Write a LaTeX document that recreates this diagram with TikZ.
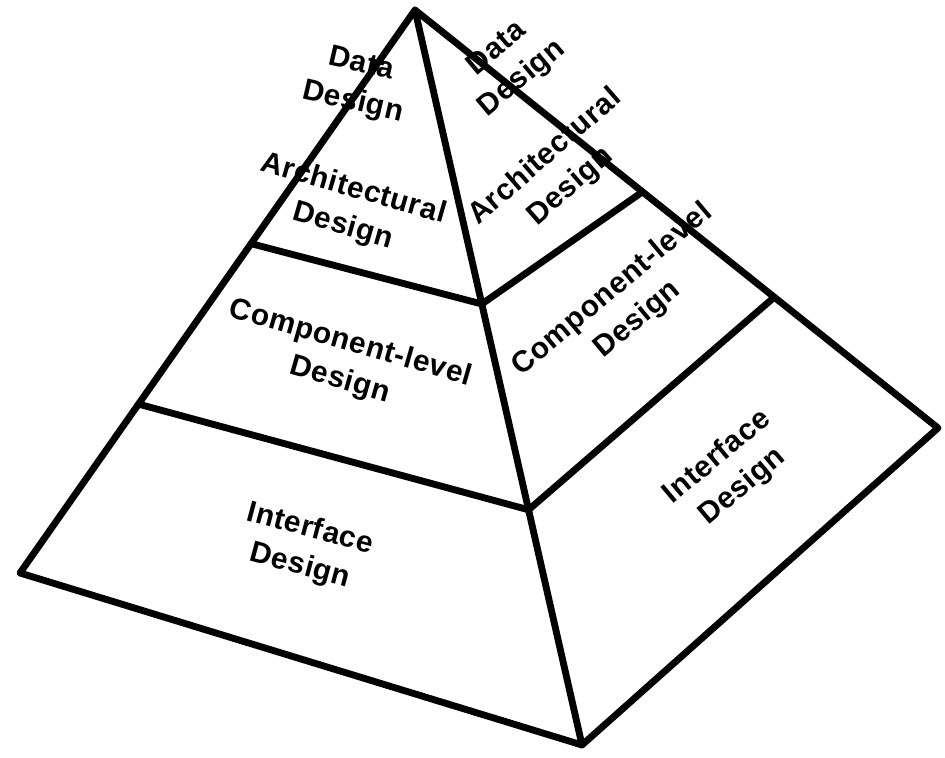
\documentclass[tikz,border=0pt]{standalone}
\usepackage{fontspec}
\setmainfont[LetterSpace=2]{Liberation Sans}
\usetikzlibrary{calc}

\tikzset{
  edge/.style={line width=3.9pt, line join=round, line cap=round},
  lbl/.style={align=center, inner sep=0pt, font=\bfseries\fontsize{17}{22}\selectfont},
}

\begin{document}
\begin{tikzpicture}[x=0.02cm, y=-0.02cm]
  \useasboundingbox (0,0) rectangle (945,757);

  % Corners
  \coordinate (apex) at (415, 10);
  \coordinate (lc) at (20, 573);
  \coordinate (fc) at (582, 745);
  \coordinate (rc) at (938, 428);

  % Layer points
  \coordinate (l1) at ($(apex)!0.415!(lc)$);
  \coordinate (l2) at ($(apex)!0.70!(lc)$);
  \coordinate (f1) at ($(apex)!0.40!(fc)$);
  \coordinate (f2) at ($(apex)!0.68!(fc)$);
  \coordinate (r1) at ($(apex)!0.435!(rc)$);
  \coordinate (r2) at ($(apex)!0.687!(rc)$);

  % Pyramid
  \draw[edge] (lc) -- (apex) -- (rc) -- (fc) -- cycle;
  \draw[edge] (apex) -- (fc);
  \draw[edge] (l1) -- (f1) -- (r1);
  \draw[edge] (l2) -- (f2) -- (r2);

  % Left face
  \node[lbl, rotate=-13] (ldata) at (357, 84) {Data\\Design};
  \node[lbl, rotate=-16] (larch) at (348, 208) {Architectural\\Design};
  \node[lbl, rotate=-16] (lcomp) at (345, 362) {Component-level\\Design};
  \node[lbl, rotate=-15] (lintf) at (305, 548) {Interface\\Design};

  % Right face
  \node[lbl, rotate=40] (rdata) at (510, 64) {Data\\Design};
  \node[lbl, rotate=41] (rarch) at (558, 172) {Architectural\\Design};
  \node[lbl, rotate=40] (rcomp) at (625, 305) {Component-level\\Design};
  \node[lbl, rotate=40] (rintf) at (730, 472) {Interface\\Design};
\end{tikzpicture}
\end{document}
